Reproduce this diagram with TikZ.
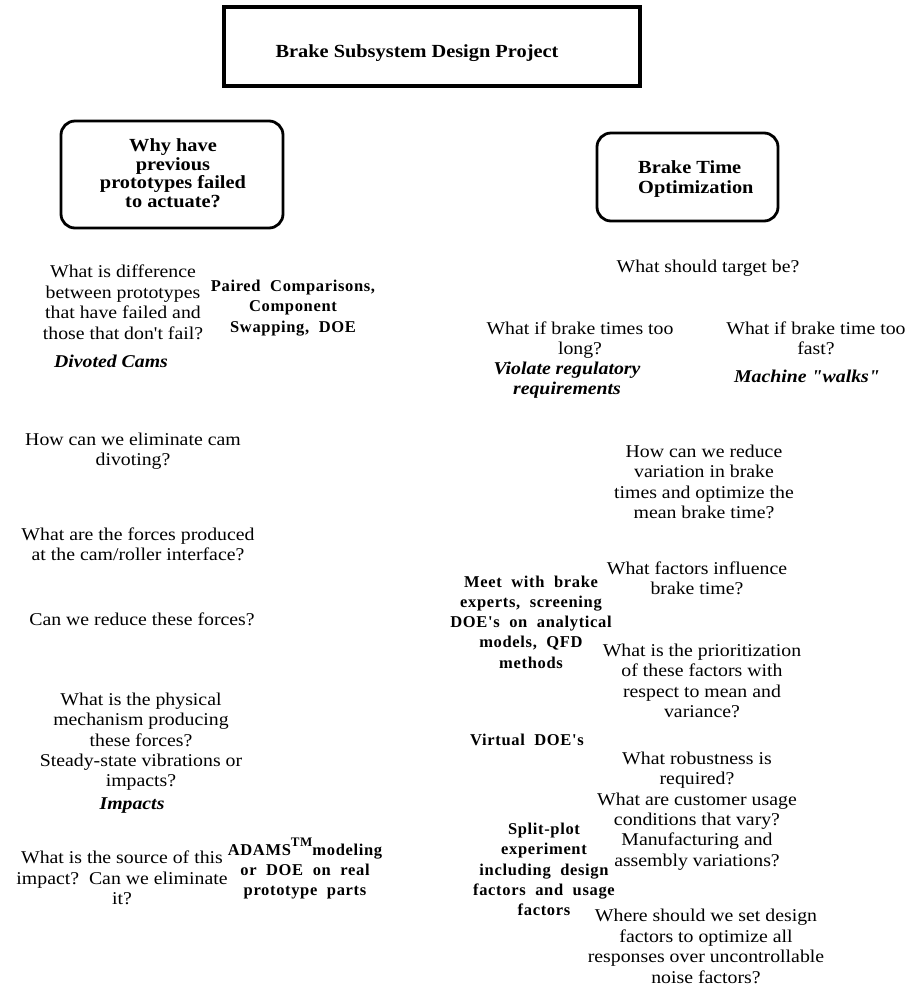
\documentclass[tikz,border=0pt]{standalone}
\usepackage{fontspec}
\setmainfont{Liberation Serif}[FakeStretch=1.1,Ligatures=TeXOff]
\newfontfamily\methfont{Liberation Serif}[LetterSpace=4,WordSpace=2,Ligatures=TeXOff]
\usetikzlibrary{positioning}
\tikzstyle{boite}=[rectangle,draw,line width=3.3pt,inner sep=0pt]
\tikzstyle{arrondi}=[rectangle,rounded corners=14pt,draw,line width=2.8pt,inner sep=0pt]
\tikzstyle{titre}=[align=center,inner sep=0pt,font=\bfseries\fontsize{18.5}{18.4}\selectfont]
\tikzstyle{question}=[align=center,inner sep=0pt,font=\fontsize{18}{20.4}\selectfont]
\tikzstyle{reponse}=[align=center,inner sep=0pt,font=\bfseries\itshape\fontsize{18}{20}\selectfont]
\tikzstyle{methode}=[align=center,inner sep=0pt,font=\methfont\bfseries\fontsize{16.5}{20.3}\selectfont]

\begin{document}
\begin{tikzpicture}[x=1pt,y=-1pt]
\useasboundingbox (0,0) rectangle (906,989);

\node[boite,minimum width=416pt,minimum height=79pt] (cadre) at (432,46.5) {};
\node[titre] (projet) at (417,52.7) {Brake Subsystem Design Project};
\node[arrondi,minimum width=222pt,minimum height=107pt] (cadreG) at (172,174.5) {};
\node[titre] (pourquoi) at (173,173.2) {Why have\\previous\\prototypes failed\\to actuate?};
\node[arrondi,minimum width=181pt,minimum height=88pt] (cadreD) at (687.5,177) {};
\node[titre,align=left,anchor=west,font=\bfseries\fontsize{18.5}{20}\selectfont] (freinage) at (638,178.7) {Brake Time\\Optimization};

\node[question] (Q10) at (123,302.3) {What is difference\\between prototypes\\that have failed and\\those that don't fail?};
\node[methode] (M10) at (293,308) {Paired Comparisons,\\Component\\Swapping, DOE};
\node[reponse] (R10) at (111,361.8) {Divoted Cams};
\node[question] (Q20) at (133,451) {How can we eliminate cam\\divoting?};
\node[question] (Q30) at (138,544) {What are the forces produced\\at the cam/roller interface?};
\node[question] (Q40) at (142,619) {Can we reduce these forces?};
\node[question] (Q50) at (141,741.8) {What is the physical\\mechanism producing\\these forces?\\Steady-state vibrations or\\impacts?};
\node[reponse] (R50) at (132,805.8) {Impacts};
\node[question] (Q60) at (122,878) {What is the source of this\\impact?\ \ Can we eliminate\\it?};
\node[methode] (M60) at (305,868.5) {ADAMS\raisebox{9pt}{\fontsize{13}{13}\selectfont TM}modeling\\or DOE on real\\prototype parts};

\node[question] (Q11) at (708,268) {What should target be?};
\node[question] (Q21) at (580,339.8) {What if brake times too\\long?};
\node[reponse] (R21) at (567,380) {Violate regulatory\\requirements};
\node[question] (Q22) at (816,338) {What if brake time too\\fast?};
\node[reponse] (R22) at (807,376.8) {Machine "walks"};
\node[question] (Q31) at (704,482) {How can we reduce\\variation in brake\\times and optimize the\\mean brake time?};
\node[question] (Q41) at (697,578) {What factors influence\\brake time?};
\node[methode] (M41) at (531,622) {Meet with brake\\experts, screening\\DOE's on analytical\\models, QFD\\methods};
\node[question] (Q51) at (702,681) {What is the prioritization\\of these factors with\\respect to mean and\\variance?};
\node[methode] (M51) at (527,740) {Virtual DOE's};
\node[question] (Q61) at (697,811) {What robustness is\\required?\\What are customer usage\\conditions that vary?\\Manufacturing and\\assembly variations?};
\node[methode] (M61) at (544,869.5) {Split-plot\\experiment\\including design\\factors and usage\\factors};
\node[question] (Q71) at (706,946.3) {Where should we set design\\factors to optimize all\\responses over uncontrollable\\noise factors?};

\end{tikzpicture}
\end{document}
